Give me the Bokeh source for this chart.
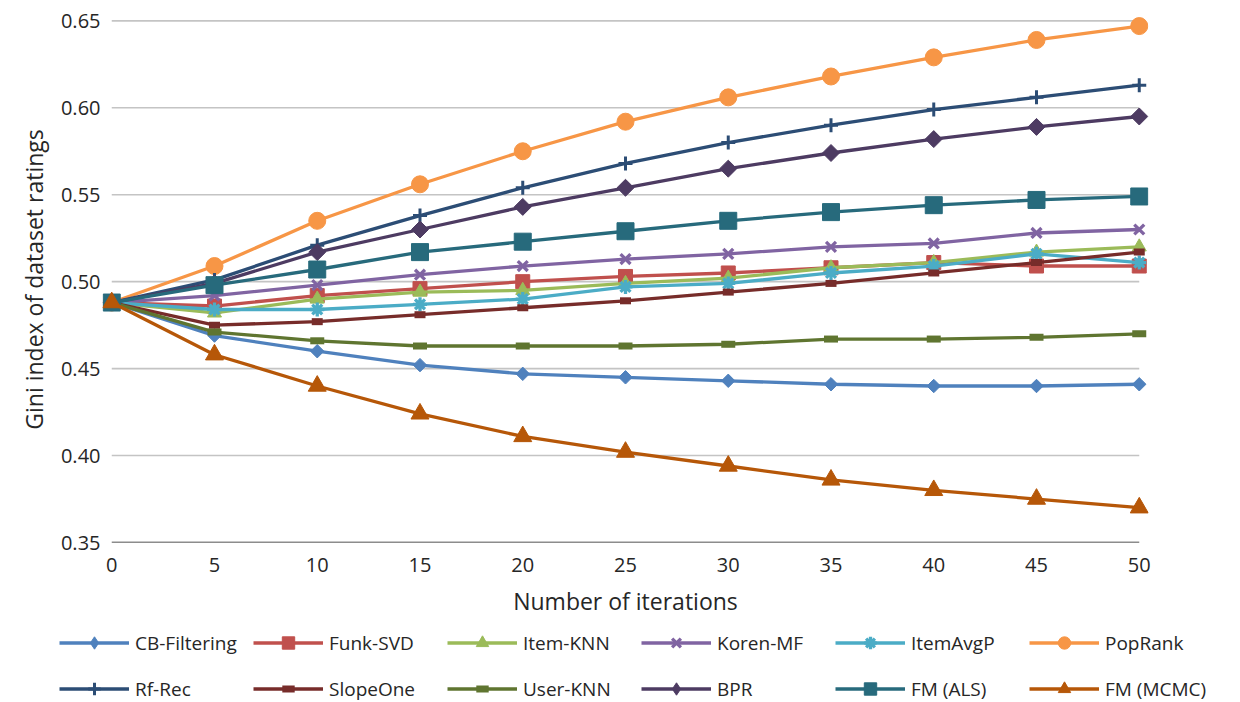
import math
from bokeh.plotting import figure
from bokeh.models import Range1d, FixedTicker, NumeralTickFormatter, Legend, LegendItem
from bokeh.embed import file_html
from bokeh.resources import INLINE

iterations = [0, 5, 10, 15, 20, 25, 30, 35, 40, 45, 50]
x_ticks = [0, 5, 10, 15, 20, 25, 30, 35, 40, 45, 50]
y_ticks = [0.35, 0.40, 0.45, 0.50, 0.55, 0.60, 0.65]

cb_filtering = [0.488, 0.469, 0.460, 0.452, 0.447, 0.445, 0.443, 0.441, 0.440, 0.440, 0.441]
funk_svd = [0.488, 0.486, 0.492, 0.496, 0.500, 0.503, 0.505, 0.508, 0.511, 0.509, 0.509]
item_knn = [0.488, 0.482, 0.490, 0.494, 0.495, 0.499, 0.502, 0.508, 0.511, 0.517, 0.520]
koren_mf = [0.488, 0.492, 0.498, 0.504, 0.509, 0.513, 0.516, 0.520, 0.522, 0.528, 0.530]
item_avgp = [0.488, 0.484, 0.484, 0.487, 0.490, 0.497, 0.499, 0.505, 0.509, 0.516, 0.511]
pop_rank = [0.488, 0.509, 0.535, 0.556, 0.575, 0.592, 0.606, 0.618, 0.629, 0.639, 0.647]
rf_rec = [0.488, 0.501, 0.521, 0.538, 0.554, 0.568, 0.580, 0.590, 0.599, 0.606, 0.613]
slope_one = [0.488, 0.475, 0.477, 0.481, 0.485, 0.489, 0.494, 0.499, 0.505, 0.511, 0.517]
user_knn = [0.488, 0.471, 0.466, 0.463, 0.463, 0.463, 0.464, 0.467, 0.467, 0.468, 0.470]
bpr = [0.488, 0.499, 0.517, 0.530, 0.543, 0.554, 0.565, 0.574, 0.582, 0.589, 0.595]
fm_als = [0.488, 0.498, 0.507, 0.517, 0.523, 0.529, 0.535, 0.540, 0.544, 0.547, 0.549]
fm_mcmc = [0.488, 0.458, 0.440, 0.424, 0.411, 0.402, 0.394, 0.386, 0.380, 0.375, 0.370]

FONT = "Open Sans"
TEXT = "#262626"
LW = 3.3
NAN = float("nan")

series = [
    ("CB-Filtering", cb_filtering, "#4F81BD", "diamond"),
    ("Funk-SVD", funk_svd, "#C0504D", "square"),
    ("Item-KNN", item_knn, "#9BBB59", "triangle"),
    ("Koren-MF", koren_mf, "#8064A2", "x"),
    ("ItemAvgP", item_avgp, "#4BACC6", "asterisk"),
    ("PopRank", pop_rank, "#F79646", "circle"),
    ("Rf-Rec", rf_rec, "#2C4D75", "cross"),
    ("SlopeOne", slope_one, "#772C2A", "dash_s"),
    ("User-KNN", user_knn, "#5F7530", "dash_l"),
    ("BPR", bpr, "#4D3B62", "diamond_l"),
    ("FM (ALS)", fm_als, "#276A7C", "square_l"),
    ("FM (MCMC)", fm_mcmc, "#B65708", "triangle_l"),
]


def add_series(fig, xs, vals, col, mk, legend_mode=False):
    rs = [fig.line(xs, vals, line_color=col, line_width=LW)]
    if mk in ("diamond", "diamond_l"):
        if legend_mode:
            rs.append(fig.scatter(xs, vals, marker="diamond", size=15, color=col))
        else:
            sz = 9.5 if mk == "diamond" else 12
            rs.append(fig.scatter(xs, vals, marker="square", angle=math.pi / 4, size=sz, color=col))
    elif mk == "square":
        rs.append(fig.scatter(xs, vals, marker="square", size=14, color=col))
    elif mk == "square_l":
        rs.append(fig.scatter(xs, vals, marker="square", size=17, color=col))
    elif mk == "triangle":
        rs.append(fig.scatter(xs, vals, marker="triangle", size=14, color=col))
    elif mk == "triangle_l":
        rs.append(fig.scatter(xs, vals, marker="triangle", size=18, color=col))
    elif mk == "x":
        rs.append(fig.scatter(xs, vals, marker="x", size=14, line_color=col, line_width=3.3))
    elif mk == "asterisk":
        rs.append(fig.scatter(xs, vals, marker="asterisk", size=14, line_color=col, line_width=3.3))
    elif mk == "circle":
        rs.append(fig.scatter(xs, vals, marker="circle", size=17, color=col))
    elif mk == "cross":
        rs.append(fig.scatter(xs, vals, marker="cross", size=14, line_color=col, line_width=3))
    elif mk == "dash_s":
        rs.append(fig.scatter(xs, vals, marker="dash", size=11, line_color=col, line_width=7, line_cap="butt"))
    else:
        rs.append(fig.scatter(xs, vals, marker="dash", size=14, line_color=col, line_width=7, line_cap="butt"))
    return rs


p = figure(width=1224, height=624, output_backend="svg", toolbar_location=None,
           x_range=Range1d(-0.45, 50.45), y_range=Range1d(0.35, 0.6525),
           min_border_left=102, min_border_right=76, min_border_top=16, min_border_bottom=82)
p.outline_line_color = None
p.xgrid.visible = False
p.ygrid.visible = False

# grid lines spanning the data extent
gx0 = [min(iterations)] * len(y_ticks)
gx1 = [max(iterations)] * len(y_ticks)
p.segment(x0=gx0[1:], y0=y_ticks[1:], x1=gx1[1:], y1=y_ticks[1:], line_color="#C4C4C4", line_width=1.6)
p.segment(x0=gx0[:1], y0=y_ticks[:1], x1=gx1[:1], y1=y_ticks[:1], line_color="#1a1a1a", line_width=1.5)

for name, vals, col, mk in series:
    add_series(p, iterations, vals, col, mk)

p.xaxis.ticker = FixedTicker(ticks=x_ticks)
p.yaxis.ticker = FixedTicker(ticks=y_ticks)
p.yaxis.formatter = NumeralTickFormatter(format="0.00")
for ax in (p.xaxis[0], p.yaxis[0]):
    ax.axis_line_color = None
    ax.major_tick_line_color = None
    ax.minor_tick_line_color = None
    ax.major_label_text_font = FONT
    ax.major_label_text_font_size = "20px"
    ax.major_label_text_color = TEXT
    ax.axis_label_text_font = FONT
    ax.axis_label_text_font_size = "23px"
    ax.axis_label_text_font_style = "normal"
    ax.axis_label_text_color = TEXT
p.xaxis.axis_label = "Number of iterations"
p.yaxis.axis_label = "Gini index of dataset ratings"
p.xaxis.major_label_standoff = 9
p.xaxis.axis_label_standoff = 10
p.yaxis.major_tick_out = 0
p.yaxis.major_label_standoff = 2
p.yaxis.axis_label_standoff = 8

# legend strip below the chart (legend-only glyphs holding no visible data)
lg = figure(width=1224, height=77, output_backend="svg", toolbar_location=None,
            x_range=Range1d(0, 1), y_range=Range1d(0, 1),
            x_axis_type=None, y_axis_type=None,
            min_border_left=0, min_border_right=0, min_border_top=0, min_border_bottom=0)
lg.outline_line_color = None
lg.xgrid.visible = False
lg.ygrid.visible = False
items = []
for name, vals, col, mk in series:
    rs = add_series(lg, [NAN], [NAN], col, mk, legend_mode=True)
    items.append(LegendItem(label=name, renderers=rs))

legend = Legend(items=items, orientation="horizontal", nrows=2,
                location=(59, -3),
                glyph_width=70, glyph_height=31, label_height=31, label_width=103,
                label_standoff=6, spacing=15, padding=0, margin=0,
                border_line_color=None, background_fill_alpha=0,
                label_text_font=FONT, label_text_font_size="19px", label_text_color=TEXT)
lg.add_layout(legend, "center")

open("out.html", "w").write(file_html([p, lg], INLINE))
